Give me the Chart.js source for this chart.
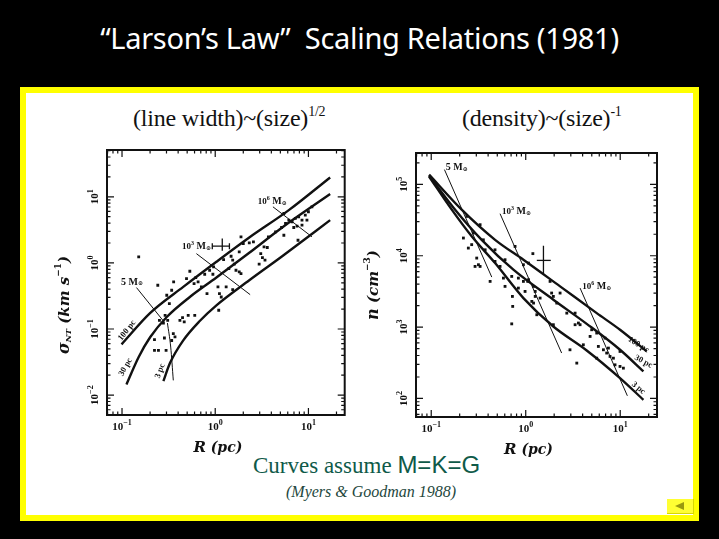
<!DOCTYPE html>
<html>
<head>
<meta charset="utf-8">
<script src="https://cdn.jsdelivr.net/npm/chart.js@4.4.1/dist/chart.umd.min.js"></script>
<style>
  body { margin:0; width:719px; height:539px; background:#000; position:relative; overflow:hidden; }
  #title { position:absolute; left:0; top:18px; width:719px; text-align:center; color:#fff;
           font:29px "Noto Sans", sans-serif; letter-spacing:-0.3px; }
  #frame { position:absolute; left:20px; top:87px; width:667px; height:422px;
           border:6px solid #ffff00; background:#fff; }
  .sub { position:absolute; top:104px; font:24px "Liberation Serif", serif; color:#111; letter-spacing:-0.2px; }
  .sub sup { font-size:14px; vertical-align:10px; }
  #curves { position:absolute; left:253px; top:451px; color:#0f5a49; font:23px "Liberation Serif", serif; white-space:nowrap; }
  #curves span { font:24px "Liberation Sans", sans-serif; }
  #ref { position:absolute; left:286px; top:483px; color:#24473d; font:italic 16px "Liberation Serif", serif; }
  #back { position:absolute; left:667px; top:499px; width:26px; height:14px; background:#ffff33;
          border-right:1px solid #d8d800; border-bottom:1px solid #d8d800; }
  #back div { position:absolute; left:8px; top:3px; width:0; height:0;
              border-top:4px solid transparent; border-bottom:4px solid transparent; border-right:9px solid #9a9a10; }
  canvas { position:absolute; }
</style>
</head>
<body>
<div id="title">“Larson’s Law”&nbsp; Scaling Relations (1981)</div>
<div id="frame"></div>
<div class="sub" style="left:133px">(line width)~(size)<sup>1/2</sup></div>
<div class="sub" style="left:462px">(density)~(size)<sup>-1</sup></div>
<div id="curves">Curves assume <span>M=K=G</span></div>
<div id="ref">(Myers &amp; Goodman 1988)</div>
<div id="back"><div></div></div>
<canvas id="lwChart" width="300" height="320" style="left:50px;top:140px"></canvas>
<canvas id="dnChart" width="310" height="320" style="left:360px;top:140px"></canvas>

<script>
// ---- line width vs size : [R (pc), sigma_NT (km/s)] ----
var lwPoints = [
  [0.151,1.23],[0.242,0.459],[0.358,0.515],[0.492,0.579],[0.593,0.486],[0.655,0.515],[0.710,0.433],
  [0.302,0.324],[0.341,0.385],[0.322,0.242],[0.290,0.161],[0.252,0.135],[0.278,0.123],[0.309,0.135],
  [0.418,0.135],[0.446,0.149],[0.465,0.128],[0.513,0.161],[0.603,0.161],[0.223,0.069],[0.285,0.073],
  [0.355,0.085],[0.370,0.076],[0.341,0.067],[0.223,0.0475],[0.246,0.0475],[0.297,0.0475],[1.09,0.192],
  [1.89,2.48],[2.00,1.96],[2.32,2.01],[2.57,2.08],[1.81,1.47],[3.34,1.75],[3.62,1.71],[3.08,1.38],
  [3.21,1.20],[3.42,1.10],[2.96,0.955],[3.72,2.48],[4.44,2.95],[5.15,3.43],[5.45,2.62],[5.68,3.95],
  [6.16,4.43],[6.68,4.18],[7.24,4.70],[7.86,4.98],[8.53,4.43],[9.25,5.27],[10.0,5.93],[10.9,7.05],
  [6.96,3.43],[7.55,3.59],[8.53,3.72],[9.64,4.43],[7.73,2.20],[5.45,5.59],[1.23,1.12],[1.48,1.26],
  [1.54,1.10],[1.60,0.955],[1.40,0.82],[1.67,0.774],[1.81,0.731],[0.96,0.869],[0.871,0.774],
  [0.771,0.673],[1.07,0.433],[1.31,0.433],[1.54,0.394],[1.11,0.343],[1.16,0.305],[0.944,0.673],
  [1.89,0.689],[0.816,0.343],[0.534,0.748],[0.618,0.60]
];
// model curves (M=K=G) for three cloud distances
var lw100R = [0.0988,0.201,0.454,1.03,2.32,6.16,17.1];
var lw100S = [0.0586,0.175,0.433,1.04,2.42,6.28,19.6];
var lw30R  = [0.1116,0.151,0.201,0.302,0.534,1.03,2.32,5.23,17.1];
var lw30S  = [0.0145,0.0377,0.0756,0.152,0.305,0.600,1.42,3.43,10.98];
var lw3R   = [0.278,0.327,0.454,0.682,1.03,2.32,5.23,17.1];
var lw3S   = [0.0163,0.0305,0.0673,0.132,0.228,0.546,1.26,4.43];
// constant-mass lines and resolution limit
var lwM5R = [0.143,0.283],  lwM5S = [0.423,0.128];
var lwM3R = [0.628,2.37],   lwM3S = [1.38,0.331];
var lwM6R = [4.16,10.9],    lwM6S = [7.05,2.48];
var lwLimR = [0.307,0.333,0.355], lwLimS = [0.123,0.0533,0.0167];
var lwErr = { r:1.19, s:1.79, rLo:0.93, rHi:1.42, sLo:1.52, sHi:2.34 };

// ---- density vs size : [R (pc), n (cm^-3)] ----
var dnPoints = [
  [0.238,35600],[0.219,17700],[0.247,12800],[0.268,14300],[0.279,20800],[0.329,27200],[0.356,16700],
  [0.372,12100],[0.303,9270],[0.316,7480],[0.291,7080],[0.329,7080],[0.473,12100],[0.473,8330],
  [0.535,7080],[0.604,8790],[0.581,4860],[0.711,5130],[0.771,13500],[0.836,4860],[0.945,7480],
  [1.07,7890],[1.05,4370],[0.945,4370],[0.836,3520],[0.604,3720],[1.21,3720],[1.26,2690],[0.723,2690],
  [0.420,4370],[1.19,10700],[0.984,3160],[1.07,4610],[1.26,3160],[1.21,2170],[1.42,2550],[1.16,2290],
  [1.81,4370],[1.88,3000],[1.96,2690],[2.13,2170],[2.31,3000],[1.31,1490],[1.96,1080],[2.72,1570],
  [3.33,1570],[3.61,1140],[3.76,1080],[3.33,1080],[4.80,740],[4.99,918],[5.64,825],[5.87,536],
  [4.07,565],[2.94,481],[3.47,313],[5.64,367],[7.50,508],[7.19,433],[7.80,388],[8.47,367],[9.95,456],
  [8.81,296],[9.95,281],[10.8,266],[6.91,701],[6.64,481],[0.711,1110],[0.728,1950]
];
var dn100R = [0.0949,0.210,0.474,0.945,2.31,5.64,9.95,19.1];
var dn100N = [137000,44200,16700,8790,3720,1570,918,456];
var dn30R  = [0.0949,0.179,0.342,0.740,1.96,4.42,9.95,17.6];
var dn30N  = [132000,44200,16700,6370,2420,1110,481,239];
var dn3R   = [0.0949,0.165,0.268,0.474,0.945,1.96,4.42,9.95,17.6];
var dn3N   = [129000,44200,18700,7890,2550,1020,471,193,95.7];
var dnM5R = [0.138,0.437],  dnM5N = [161000,5020];
var dnM3R = [0.535,2.40],   dnM3N = [38800,433];
var dnM6R = [3.76,11.9],    dnM6N = [3520,109];
var dnErr = { r:1.54, n:8600, rLo:1.31, rHi:1.84, nLo:5420, nHi:13800 };

var xDecades = [-1, 0, 1];
var lwDecades = [-2, -1, 0, 1];
var dnDecades = [2, 3, 4, 5];

var INK = '#111';
var SERIF = '"Liberation Serif", serif';
var TT = '"DejaVu Serif", serif';

function pairs(xs, ys) { return xs.map(function (x, i) { return { x: x, y: ys[i] }; }); }
function sup(n) { return String(n).replace('-', '\u2212'); }

function curve(xs, ys, w) {
  return { data: pairs(xs, ys), showLine: true, borderColor: INK, borderWidth: w,
           pointRadius: 0, tension: 0.35, cubicInterpolationMode: 'monotone' };
}

function drawRich(ctx, parts, x, y, rot) {
  ctx.save();
  ctx.translate(x, y);
  ctx.rotate(rot || 0);
  ctx.textBaseline = 'middle';
  ctx.fillStyle = INK;
  var w = 0;
  parts.forEach(function (p) { ctx.font = p[1]; w += ctx.measureText(p[0]).width; });
  var cx = -w / 2;
  parts.forEach(function (p) {
    ctx.font = p[1];
    ctx.fillText(p[0], cx, p[2] || 0);
    cx += ctx.measureText(p[0]).width;
  });
  ctx.restore();
}

function tenTo(e) {
  return [['10', 'bold 11px ' + SERIF], [sup(e), 'bold 8px ' + SERIF, -4]];
}
function mSun(pre) {
  var p = [];
  if (pre !== undefined) p.push(['10', 'bold 9px ' + SERIF], [String(pre), 'bold 6px ' + SERIF, -3]);
  p.push([pre !== undefined ? ' M' : '5 M', 'bold 10px ' + SERIF], ['\u2299', 'bold 6px ' + TT, 2]);
  return p;
}

// frame, inward ticks, tick labels, axis titles and curve labels
var framePlugin = {
  id: 'frame',
  afterDraw: function (chart, args, o) {
    var ctx = chart.ctx, a = chart.chartArea, xs = chart.scales.x, ys = chart.scales.y;
    ctx.save();
    ctx.strokeStyle = INK;
    ctx.lineWidth = 2;
    ctx.strokeRect(a.left, a.top, a.right - a.left, a.bottom - a.top);
    ctx.lineWidth = 1.2;
    function ticks(scale, horiz) {
      var lo = Math.floor(Math.log10(scale.min)), hi = Math.ceil(Math.log10(scale.max));
      for (var k = lo; k <= hi; k++) {
        for (var m = 1; m <= 9; m++) {
          var v = m * Math.pow(10, k);
          if (v < scale.min || v > scale.max) continue;
          var p = scale.getPixelForValue(v), len = m === 1 ? 7 : 3.5;
          ctx.beginPath();
          if (horiz) {
            ctx.moveTo(p, a.bottom); ctx.lineTo(p, a.bottom - len);
            ctx.moveTo(p, a.top); ctx.lineTo(p, a.top + len);
          } else {
            ctx.moveTo(a.left, p); ctx.lineTo(a.left + len, p);
            ctx.moveTo(a.right, p); ctx.lineTo(a.right - len, p);
          }
          ctx.stroke();
        }
      }
    }
    ticks(xs, true);
    ticks(ys, false);
    o.xDec.forEach(function (e) {
      drawRich(ctx, tenTo(e), xs.getPixelForValue(Math.pow(10, e)), a.bottom + 12, 0);
    });
    o.yDec.forEach(function (e) {
      drawRich(ctx, tenTo(e), a.left - 12, ys.getPixelForValue(Math.pow(10, e)), -Math.PI / 2);
    });
    drawRich(ctx, o.xTitle, (a.left + a.right) / 2 - 8, a.bottom + 33, 0);
    drawRich(ctx, o.yTitle, a.left - 42, o.yTitleY, -Math.PI / 2);
    o.notes.forEach(function (n) {
      drawRich(ctx, n.parts, xs.getPixelForValue(n.x), ys.getPixelForValue(n.y), n.rot * Math.PI / 180);
    });
    ctx.restore();
  }
};

function fixW(w) { return function (s) { s.width = w; }; }
function fixH(h) { return function (s) { s.height = h; }; }

function logAxis(min, max, fit) {
  var ax = { type: 'logarithmic', min: min, max: max, grid: { display: false }, border: { display: false },
             ticks: { display: false } };
  ax.afterFit = fit;
  return ax;
}

var xTitle = [['R', 'bold italic 15px ' + TT], [' (pc)', 'bold italic 14px ' + TT]];
var pcFont = 'bold 8.5px ' + SERIF;

var errCap = { pointStyle: 'line', pointRadius: 3, pointBorderWidth: 1.3, borderColor: INK, showLine: true, borderWidth: 1.3 };

new Chart(document.getElementById('lwChart'), {
  type: 'scatter',
  data: {
    datasets: [
      { data: lwPoints.map(function (p) { return { x: p[0], y: p[1] }; }), pointStyle: 'rect',
        pointRadius: 2, backgroundColor: INK, borderColor: INK, borderWidth: 0 },
      curve(lw100R, lw100S, 2.4), curve(lw30R, lw30S, 2.4), curve(lw3R, lw3S, 2.4),
      curve(lwM5R, lwM5S, 1), curve(lwM3R, lwM3S, 1), curve(lwM6R, lwM6S, 1), curve(lwLimR, lwLimS, 1),
      Object.assign({ data: [{ x: lwErr.rLo, y: lwErr.s }, { x: lwErr.rHi, y: lwErr.s }], pointRotation: 90 }, errCap),
      Object.assign({ data: [{ x: lwErr.r, y: lwErr.sLo }, { x: lwErr.r, y: lwErr.sHi }] }, errCap, { pointRadius: 0 })
    ]
  },
  options: {
    responsive: false, animation: false,
    layout: { padding: { top: 10, right: 3, left: 0, bottom: 0 } },
    scales: {
      x: logAxis(0.069, 24.5, fixH(45)),
      y: logAxis(0.005, 51, fixW(57))
    },
    plugins: {
      legend: { display: false }, tooltip: { enabled: false },
      frame: {
        xDec: xDecades, yDec: lwDecades, xTitle: xTitle, yTitleY: 165,
        yTitle: [['\u03c3', 'bold italic 16px ' + TT], ['NT', 'bold italic 8px ' + TT, 4],
                 [' (km s', 'bold italic 15px ' + TT], ['\u22121', 'bold 9px ' + TT, -6], [')', 'bold italic 15px ' + TT]],
        notes: [
          { x: 4.1, y: 8.4, rot: 0, parts: mSun(6) },
          { x: 0.63, y: 1.75, rot: 0, parts: mSun(3) },
          { x: 0.128, y: 0.515, rot: 0, parts: mSun() },
          { x: 0.113, y: 0.095, rot: -52, parts: [['100 pc', pcFont]] },
          { x: 0.109, y: 0.0265, rot: -60, parts: [['30 pc', pcFont]] },
          { x: 0.256, y: 0.0231, rot: -70, parts: [['3 pc', pcFont]] }
        ]
      }
    }
  },
  plugins: [framePlugin]
});

new Chart(document.getElementById('dnChart'), {
  type: 'scatter',
  data: {
    datasets: [
      { data: dnPoints.map(function (p) { return { x: p[0], y: p[1] }; }), pointStyle: 'rect',
        pointRadius: 2, backgroundColor: INK, borderColor: INK, borderWidth: 0 },
      curve(dn100R, dn100N, 2.4), curve(dn30R, dn30N, 2.4), curve(dn3R, dn3N, 2.4),
      curve(dnM5R, dnM5N, 1), curve(dnM3R, dnM3N, 1), curve(dnM6R, dnM6N, 1),
      Object.assign({}, errCap, { data: [{ x: dnErr.rLo, y: dnErr.n }, { x: dnErr.rHi, y: dnErr.n }], pointRadius: 0 }),
      Object.assign({}, errCap, { data: [{ x: dnErr.r, y: dnErr.nLo }, { x: dnErr.r, y: dnErr.nHi }], pointRadius: 0 })
    ]
  },
  options: {
    responsive: false, animation: false,
    layout: { padding: { top: 13, right: 13, left: 0, bottom: 0 } },
    scales: {
      x: logAxis(0.069, 24.5, fixH(43)),
      y: logAxis(55, 275000, fixW(56))
    },
    plugins: {
      legend: { display: false }, tooltip: { enabled: false },
      frame: {
        xDec: xDecades, yDec: dnDecades, xTitle: xTitle, yTitleY: 145,
        yTitle: [['n', 'bold italic 16px ' + TT], [' (cm', 'bold italic 15px ' + TT],
                 ['\u22123', 'bold 9px ' + TT, -6], [')', 'bold italic 15px ' + TT]],
        notes: [
          { x: 0.186, y: 170000, rot: 0, parts: mSun() },
          { x: 0.80, y: 42000, rot: 0, parts: mSun(3) },
          { x: 5.64, y: 3720, rot: 0, parts: mSun(6) },
          { x: 15.6, y: 565, rot: 32, parts: [['100 pc', pcFont]] },
          { x: 17.6, y: 330, rot: 28, parts: [['30 pc', pcFont]] },
          { x: 15.6, y: 140, rot: 40, parts: [['3 pc', pcFont]] }
        ]
      }
    }
  },
  plugins: [framePlugin]
});
</script>
</body>
</html>
